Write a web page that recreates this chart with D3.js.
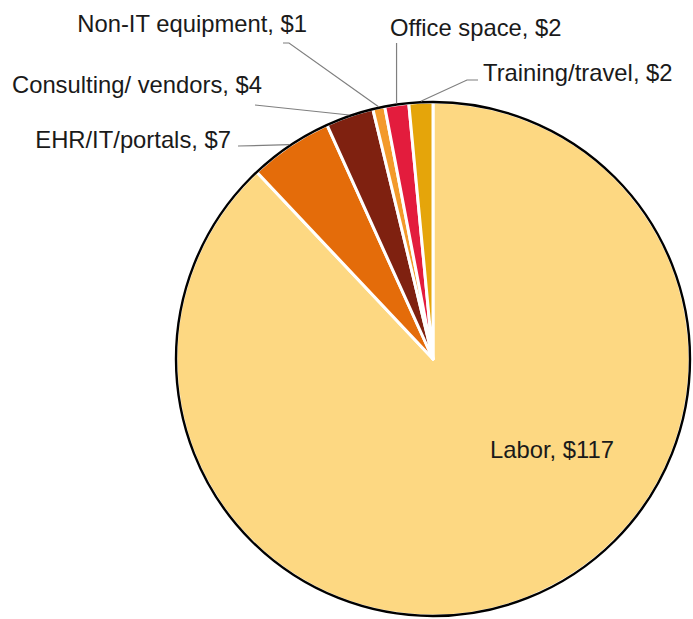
<!DOCTYPE html>
<html>
<head>
<meta charset="utf-8">
<script src="https://cdn.jsdelivr.net/npm/d3@7/dist/d3.min.js"></script>
<style>
  html, body { margin: 0; padding: 0; background: #fff; }
  svg text { font-family: "Liberation Sans", Arial, sans-serif; fill: #1a1a1a; }
</style>
</head>
<body>
<svg id="chart" width="693" height="619"></svg>
<script>
// Cost categories, clockwise from 12 o'clock
const categories = ["Labor", "EHR/IT/portals", "Consulting/ vendors", "Non-IT equipment", "Office space", "Training/travel"];
const values = [117, 7, 4, 1, 2, 2];
const colors = ["#FDD882", "#E46C0A", "#7F2110", "#F39A2B", "#E31C3D", "#E5A50A"];

// Label anchor points (baseline)
const labelPos = [
  { x: 490, y: 458, anchor: "start" },
  { x: 231, y: 148, anchor: "end" },
  { x: 262, y: 93, anchor: "end" },
  { x: 307, y: 32, anchor: "end" },
  { x: 390, y: 36, anchor: "start" },
  { x: 483, y: 81, anchor: "start" }
];

const cx = 433, cy = 359, radius = 257;

const svg = d3.select("#chart");
const g = svg.append("g").attr("transform", `translate(${cx},${cy})`);

const pie = d3.pie().sort(null).value(d => d.value);
const data = categories.map((c, i) => ({ name: c, value: values[i], color: colors[i] }));
const arcs = pie(data);

const arc = d3.arc().innerRadius(0).outerRadius(radius);

g.selectAll("path.slice")
  .data(arcs)
  .join("path")
  .attr("class", "slice")
  .attr("d", arc)
  .attr("fill", d => d.data.color)
  .attr("stroke", "#fff")
  .attr("stroke-width", 3)
  .attr("stroke-linejoin", "round");

// Outer rim
g.append("circle")
  .attr("r", radius)
  .attr("fill", "none")
  .attr("stroke", "#000")
  .attr("stroke-width", 2.4);

// Point on the rim at a slice's middle angle
function rimPoint(a, r) {
  const ang = (a.startAngle + a.endAngle) / 2;
  return [cx + r * Math.sin(ang), cy - r * Math.cos(ang)];
}

// Leader lines: start near the label, optional elbow, end at the rim
const leaderStarts = [null, [238, 146], [255, 105], [283, 43], null, [478, 80]];
const elbows = [null, null, null, [289, 43], null, [467, 80]];

leaderStarts.forEach((s, i) => {
  if (i === 0) return;
  const end = rimPoint(arcs[i], radius + 1);
  let pts;
  if (i === 4) {
    // Office space: vertical line straight down to the rim
    pts = [[end[0], 43], end];
  } else {
    pts = [s];
    if (elbows[i]) pts.push(elbows[i]);
    pts.push(end);
  }
  svg.append("path")
    .attr("d", d3.line()(pts))
    .attr("fill", "none")
    .attr("stroke", "#7f7f7f")
    .attr("stroke-width", 1.2);
});

// Labels
svg.selectAll("text.lbl")
  .data(arcs)
  .join("text")
  .attr("class", "lbl")
  .attr("x", (d, i) => labelPos[i].x)
  .attr("y", (d, i) => labelPos[i].y)
  .attr("text-anchor", (d, i) => labelPos[i].anchor)
  .attr("font-size", 23.8)
  .text(d => `${d.data.name}, $${d.data.value}`);
</script>
</body>
</html>
